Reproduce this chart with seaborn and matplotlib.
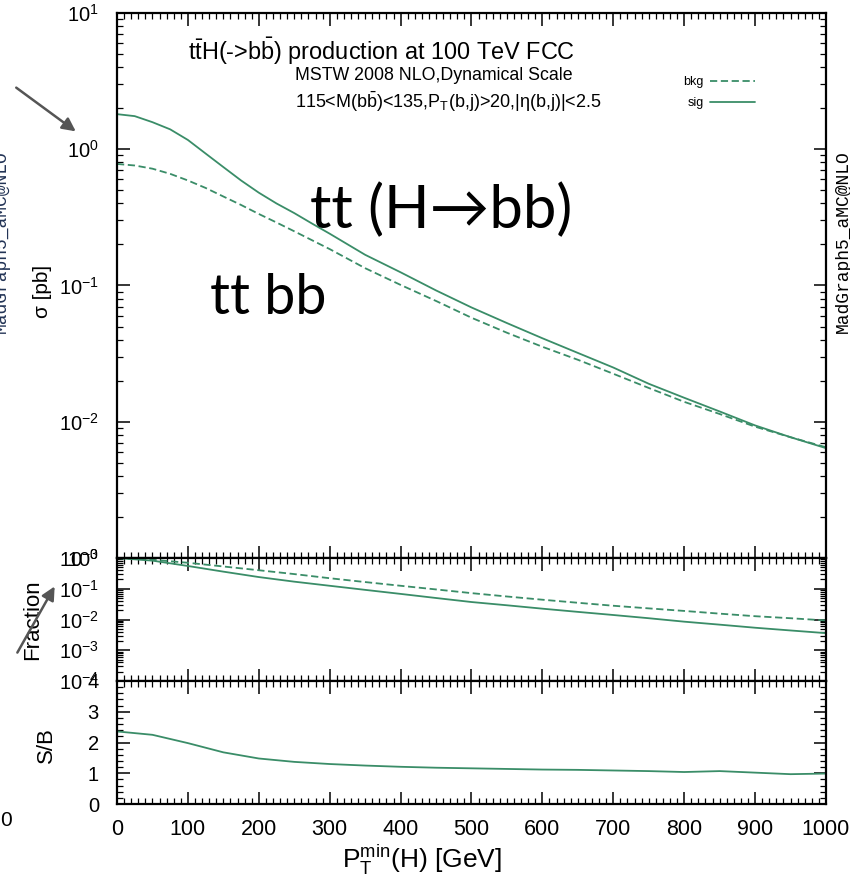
import numpy as np
import pandas as pd
import matplotlib
matplotlib.use("Agg")
import matplotlib.pyplot as plt
import seaborn as sns
from matplotlib.ticker import LogLocator, MultipleLocator, NullFormatter, LogFormatterSciNotation

# ---------------- data ----------------
# main panel: cross sections [pb]
pt_main = [0, 25, 50, 75, 100, 125, 150, 175, 200, 225, 250, 275, 300,
           350, 400, 450, 500, 550, 600, 650, 700, 750, 800, 850, 900, 950, 1000]
sig_xsec = [1.81, 1.75, 1.58, 1.40, 1.17, 0.93, 0.74, 0.59, 0.48, 0.40, 0.34, 0.285, 0.24,
            0.168, 0.125, 0.092, 0.069, 0.053, 0.041, 0.032, 0.025, 0.019, 0.015,
            0.0119, 0.0094, 0.0077, 0.0064]
bkg_xsec = [0.78, 0.76, 0.72, 0.66, 0.59, 0.52, 0.45, 0.39, 0.335, 0.29, 0.25, 0.215, 0.185,
            0.134, 0.101, 0.077, 0.058, 0.045, 0.0355, 0.0285, 0.0225, 0.0177, 0.014,
            0.0114, 0.0092, 0.0077, 0.0065]
# ratio panels
pt_ratio = [0, 50, 100, 150, 200, 250, 300, 350, 400, 450, 500,
            550, 600, 650, 700, 750, 800, 850, 900, 950, 1000]
sig_frac = [1.0, 0.82, 0.55, 0.36, 0.24, 0.17, 0.125, 0.092, 0.068, 0.050, 0.037,
            0.029, 0.0225, 0.0177, 0.014, 0.011, 0.0085, 0.0068, 0.0054, 0.0044, 0.0036]
bkg_frac = [1.0, 0.88, 0.70, 0.53, 0.40, 0.30, 0.22, 0.165, 0.125, 0.095, 0.072,
            0.056, 0.044, 0.035, 0.028, 0.023, 0.019, 0.0155, 0.0128, 0.011, 0.0093]
s_over_b = [2.36, 2.25, 1.98, 1.68, 1.48, 1.37, 1.30, 1.25, 1.21, 1.18, 1.16,
            1.14, 1.12, 1.11, 1.09, 1.07, 1.04, 1.07, 1.02, 0.97, 0.99]
x_ticks = [0, 100, 200, 300, 400, 500, 600, 700, 800, 900, 1000]

GREEN = "#3a8d68"
FONT = "Liberation Sans"

sns.set_style("ticks")
plt.rcParams["font.family"] = [FONT, "DejaVu Sans"]
plt.rcParams["mathtext.fontset"] = "custom"
plt.rcParams["mathtext.rm"] = FONT
plt.rcParams["mathtext.it"] = FONT + ":italic"
plt.rcParams["mathtext.bf"] = FONT + ":bold"
plt.rcParams["text.color"] = "black"
plt.rcParams["axes.labelcolor"] = "black"

df_main = pd.DataFrame({"pt": pt_main, "sig": sig_xsec, "bkg": bkg_xsec})
df_ratio = pd.DataFrame({"pt": pt_ratio, "fsig": sig_frac, "fbkg": bkg_frac, "sb": s_over_b})

W, H = 850, 883
fig = plt.figure(figsize=(W / 100, H / 100), dpi=100)
fig.patch.set_facecolor("white")

def fx(px):
    return px / W

def fy(py):
    return 1 - py / H

left, right = 117, 826
ax1 = fig.add_axes([fx(left), fy(558), fx(right - left), (558 - 13) / H])
ax2 = fig.add_axes([fx(left), fy(681), fx(right - left), (681 - 558) / H])
ax3 = fig.add_axes([fx(left), fy(804), fx(right - left), (804 - 681) / H])

DASH = (0, (4, 2))
# main panel
sns.lineplot(data=df_main, x="pt", y="bkg", ax=ax1, color=GREEN, lw=1.3,
             linestyle=DASH, label="bkg")
sns.lineplot(data=df_main, x="pt", y="sig", ax=ax1, color=GREEN, lw=1.3, label="sig")
ax1.set_yscale("log")
ax1.set_ylim(1e-3, 10)

# fraction panel
sns.lineplot(data=df_ratio, x="pt", y="fbkg", ax=ax2, color=GREEN, lw=1.3, linestyle=DASH)
sns.lineplot(data=df_ratio, x="pt", y="fsig", ax=ax2, color=GREEN, lw=1.3)
ax2.set_yscale("log")
ax2.set_ylim(1e-4, 1.0)

# S/B panel
sns.lineplot(data=df_ratio, x="pt", y="sb", ax=ax3, color=GREEN, lw=1.3)
ax3.set_ylim(0, 4)

for ax in (ax1, ax2, ax3):
    ax.set_xlim(0, 1000)
    ax.set_xlabel("")
    ax.set_ylabel("")
    for s in ax.spines.values():
        s.set_visible(True)
        s.set_linewidth(1.6)
        s.set_color("black")
    ax.xaxis.set_major_locator(MultipleLocator(100))
    ax.xaxis.set_minor_locator(MultipleLocator(10))
    ax.tick_params(which="both", direction="in", top=True, right=True, colors="black")
    ax.tick_params(axis="y", labelsize=14.5, pad=13)
    ax.tick_params(axis="x", labelsize=15.5, pad=11)
    ax.tick_params(which="major", length=9, width=1.1)
    ax.tick_params(which="minor", length=4.5, width=0.9)

for ax in (ax1, ax2):
    ax.yaxis.set_major_locator(LogLocator(base=10, numticks=10))
    ax.yaxis.set_minor_locator(LogLocator(base=10, subs=np.arange(2, 10), numticks=10))
    ax.yaxis.set_minor_formatter(NullFormatter())
    ax.yaxis.set_major_formatter(LogFormatterSciNotation())
    ax.tick_params(axis="x", labelbottom=False)

ax3.yaxis.set_major_locator(MultipleLocator(1))
ax3.yaxis.set_minor_locator(MultipleLocator(0.2))
ax3.set_xticks(x_ticks)
ax3.set_xticklabels([str(v) for v in x_ticks])

# legend
ax1.legend(loc="upper right", bbox_to_anchor=((755 - left) / (right - left), (558 - 76) / 545),
           borderaxespad=0, borderpad=0, frameon=False, markerfirst=False,
           fontsize=9, handlelength=3.6, handletextpad=0.5, labelspacing=0.75)

# axis labels
ax1.set_ylabel("σ [pb]", fontsize=15)
ax1.yaxis.set_label_coords((52 - left) / (right - left), 0.49)
ax2.set_ylabel("Fraction", fontsize=16)
ax2.yaxis.set_label_coords((43 - left) / (right - left), 0.5)
ax3.set_ylabel("S/B", fontsize=16)
ax3.yaxis.set_label_coords((57 - left) / (right - left), 0.48)
ax3.set_xlabel(r"P$_\mathrm{T}^\mathrm{min}$(H) [GeV]", fontsize=19)
ax3.xaxis.set_label_coords((422 - left) / (right - left), -(843 - 804) / 123)

# header texts
fig.text(fx(188), fy(51), r"t$\bar{\mathrm{t}}$H(->b$\bar{\mathrm{b}}$) production at 100 TeV FCC",
         fontsize=16.9, ha="left", va="center")
fig.text(fx(295), fy(75), "MSTW 2008 NLO,Dynamical Scale", fontsize=12.8,
         ha="left", va="center")
fig.text(fx(295), fy(102),
         r"115<M(b$\bar{\mathrm{b}}$)<135,P$_\mathrm{T}$(b,j)>20,|η(b,j)|<2.5",
         fontsize=13, ha="left", va="center")

# big slide annotations
fig.text(fx(310), fy(210), "tt (H→bb)", fontsize=43, family=["Lato", "DejaVu Sans"],
         ha="left", va="center", color="black")
fig.text(fx(210), fy(298), "tt bb", fontsize=40, family=["Lato", "DejaVu Sans"],
         ha="left", va="center", color="black")

# side texts
fig.text(fx(843), fy(242), "MadGraph5_aMC@NLO", fontsize=13, family="Liberation Mono",
         rotation=90, ha="center", va="center")
fig.text(fx(1), fy(242), "MadGraph5_aMC@NLO", fontsize=13, family="Liberation Mono",
         rotation=90, ha="center", va="center", color="#223355")
fig.text(fx(0), fy(820), "0", fontsize=15, ha="left", va="center")

# gray arrows on the slide
fig.add_artist(matplotlib.patches.FancyArrowPatch(
    (fx(14), fy(86)), (fx(78), fy(133)), transform=fig.transFigure,
    arrowstyle="-|>,head_length=8,head_width=4", color="#555555", lw=1.8))
fig.add_artist(matplotlib.patches.FancyArrowPatch(
    (fx(16), fy(655)), (fx(56), fy(584)), transform=fig.transFigure,
    arrowstyle="-|>,head_length=8,head_width=4", color="#555555", lw=1.8))

fig.savefig("out.png", dpi=100, facecolor="white")
